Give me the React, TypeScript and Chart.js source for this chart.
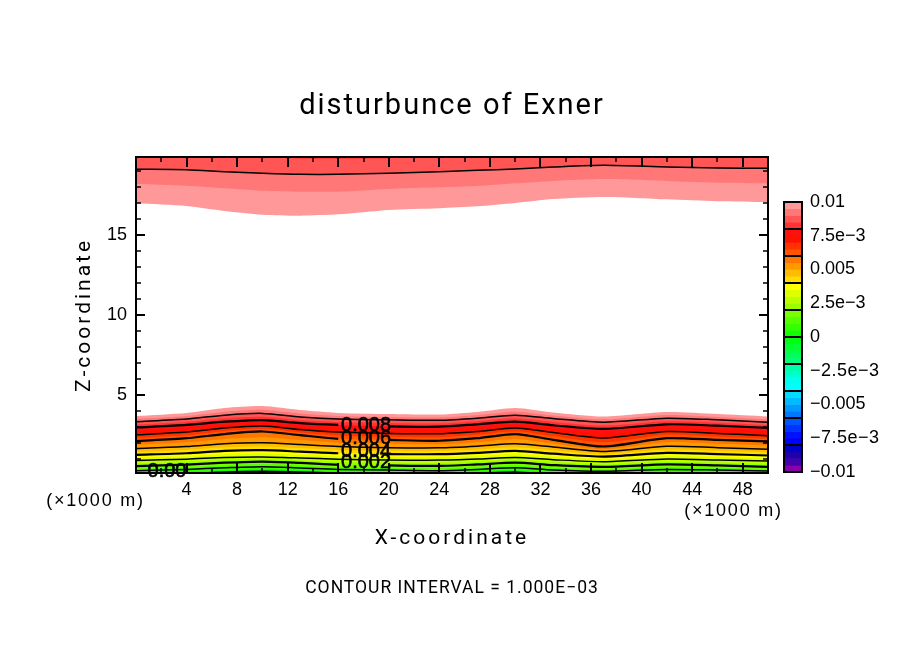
import React, { useEffect, useRef } from "react";
import { Chart, registerables } from "chart.js";

Chart.register(...registerables);

const titleText = "disturbunce of Exner";
const noteText = "CONTOUR INTERVAL = 1.000E\u221203";
const xAxisTitle = "X-coordinate";
const yAxisTitle = "Z-coordinate";
const unitText = "(\u00d71000 m)";

const xMajor = [4, 8, 12, 16, 20, 24, 28, 32, 36, 40, 44, 48];
const xMinor = [2, 6, 10, 14, 18, 22, 26, 30, 34, 38, 42, 46];
const zMajor = [5, 10, 15];
const zMinor = [1, 2, 3, 4, 6, 7, 8, 9, 11, 12, 13, 14, 16, 17, 18, 19];

// x positions (km) at which the contours were read
const xNodes = [0, 4, 7, 10, 13, 16, 20, 24, 27, 30, 33, 37, 42, 46, 50];

// upper region: height (km) of each band edge
const up0085 = [20.6, 20.4, 20.2, 19.95, 19.77, 19.77, 19.8, 20.0, 20.2, 20.4, 20.6, 20.8, 20.6, 20.5, 20.5];
const up0090 = [19.11, 19.08, 18.96, 18.86, 18.79, 18.79, 18.86, 18.96, 19.04, 19.13, 19.25, 19.36, 19.25, 19.19, 19.17];
const up0095 = [18.19, 18.08, 17.92, 17.77, 17.71, 17.71, 17.88, 17.98, 18.06, 18.23, 18.38, 18.5, 18.38, 18.27, 18.23];
const up0100 = [16.98, 16.81, 16.5, 16.27, 16.21, 16.29, 16.56, 16.67, 16.79, 17.0, 17.25, 17.38, 17.23, 17.11, 17.06];

// lower region: height (km) of each level
const lo0100 = [3.69, 3.88, 4.19, 4.31, 4.06, 3.88, 3.81, 3.78, 3.94, 4.19, 3.91, 3.66, 3.94, 3.81, 3.66];
const lo0095 = [3.51, 3.69, 3.96, 4.08, 3.85, 3.69, 3.63, 3.6, 3.75, 3.96, 3.72, 3.48, 3.75, 3.63, 3.48];
const lo0090 = [3.33, 3.5, 3.74, 3.85, 3.63, 3.5, 3.45, 3.42, 3.55, 3.74, 3.53, 3.3, 3.55, 3.45, 3.3];
const lo0085 = [3.15, 3.31, 3.54, 3.64, 3.43, 3.31, 3.25, 3.22, 3.36, 3.54, 3.32, 3.09, 3.36, 3.27, 3.13];
const lo0080 = [2.97, 3.13, 3.33, 3.43, 3.24, 3.13, 3.04, 3.02, 3.17, 3.33, 3.11, 2.88, 3.17, 3.08, 2.95];
const lo0075 = [2.74, 2.9, 3.13, 3.25, 3.04, 2.9, 2.82, 2.8, 2.94, 3.13, 2.88, 2.59, 2.94, 2.84, 2.7];
const lo0070 = [2.51, 2.68, 2.93, 3.06, 2.84, 2.68, 2.6, 2.58, 2.72, 2.93, 2.66, 2.31, 2.72, 2.6, 2.45];
const lo0065 = [2.31, 2.49, 2.74, 2.89, 2.66, 2.47, 2.39, 2.36, 2.51, 2.74, 2.43, 2.04, 2.51, 2.39, 2.27];
const lo0060 = [2.12, 2.3, 2.56, 2.72, 2.49, 2.26, 2.19, 2.14, 2.3, 2.56, 2.2, 1.78, 2.3, 2.19, 2.1];
const lo0055 = [1.89, 2.04, 2.25, 2.36, 2.19, 2.02, 1.95, 1.92, 2.05, 2.25, 1.97, 1.62, 2.05, 1.95, 1.85];
const lo0050 = [1.66, 1.78, 1.95, 2.01, 1.9, 1.78, 1.71, 1.7, 1.8, 1.95, 1.75, 1.47, 1.8, 1.71, 1.61];
const lo0045 = [1.46, 1.57, 1.73, 1.78, 1.68, 1.57, 1.51, 1.5, 1.59, 1.73, 1.54, 1.31, 1.59, 1.51, 1.41];
const lo0040 = [1.26, 1.36, 1.51, 1.55, 1.46, 1.36, 1.31, 1.3, 1.38, 1.51, 1.33, 1.15, 1.38, 1.31, 1.22];
const lo0035 = [1.08, 1.17, 1.3, 1.34, 1.26, 1.17, 1.12, 1.11, 1.19, 1.3, 1.14, 0.99, 1.19, 1.12, 1.04];
const lo0030 = [0.91, 0.99, 1.1, 1.13, 1.07, 0.99, 0.94, 0.93, 1.0, 1.1, 0.96, 0.83, 1.0, 0.94, 0.87];
const lo0025 = [0.73, 0.82, 0.93, 0.98, 0.91, 0.82, 0.77, 0.75, 0.83, 0.93, 0.79, 0.67, 0.83, 0.77, 0.69];
const lo0020 = [0.55, 0.65, 0.77, 0.84, 0.76, 0.65, 0.6, 0.57, 0.66, 0.77, 0.62, 0.51, 0.66, 0.6, 0.51];
const lo0015 = [0.41, 0.5, 0.61, 0.68, 0.6, 0.5, 0.45, 0.42, 0.5, 0.61, 0.46, 0.37, 0.5, 0.45, 0.38];
const lo0010 = [0.27, 0.35, 0.45, 0.52, 0.44, 0.35, 0.31, 0.27, 0.35, 0.45, 0.31, 0.23, 0.35, 0.31, 0.25];
const lo0005 = [0.13, 0.2, 0.31, 0.36, 0.3, 0.22, 0.16, 0.14, 0.22, 0.31, 0.16, 0.07, 0.2, 0.16, 0.1];
const lo0000 = [-0.02, 0.05, 0.17, 0.21, 0.17, 0.09, 0.01, 0.02, 0.09, 0.17, 0.01, -0.09, 0.05, 0.01, -0.05];

// colour bar, from the top down
const bandTops = [
  0.01, 0.0095, 0.009, 0.0085, 0.008, 0.0075, 0.007, 0.0065, 0.006, 0.0055,
  0.005, 0.0045, 0.004, 0.0035, 0.003, 0.0025, 0.002, 0.0015, 0.001, 0.0005,
  0, -0.0005, -0.001, -0.0015, -0.002, -0.0025, -0.003, -0.0035, -0.004, -0.0045,
  -0.005, -0.0055, -0.006, -0.0065, -0.007, -0.0075, -0.008, -0.0085, -0.009, -0.0095,
];
const bandBottoms = [
  0.0095, 0.009, 0.0085, 0.008, 0.0075, 0.007, 0.0065, 0.006, 0.0055, 0.005,
  0.0045, 0.004, 0.0035, 0.003, 0.0025, 0.002, 0.0015, 0.001, 0.0005, 0,
  -0.0005, -0.001, -0.0015, -0.002, -0.0025, -0.003, -0.0035, -0.004, -0.0045, -0.005,
  -0.0055, -0.006, -0.0065, -0.007, -0.0075, -0.008, -0.0085, -0.009, -0.0095, -0.01,
];
const bandColors = [
  "#ff9999", "#ff7777", "#ff5555", "#ff3333",
  "#ff1111", "#ff1100", "#ff3300", "#ff5500",
  "#ff7700", "#ff9900", "#ffbb00", "#ffdd00",
  "#ffff00", "#ddff00", "#bbff00", "#99ff00",
  "#77ff00", "#55ff00", "#33ff00", "#11ff00",
  "#00ff11", "#00ff33", "#00ff55", "#00ff77",
  "#00ffaa", "#00ffcc", "#00ffee", "#00ffff",
  "#00ddff", "#00bbff", "#0099ff", "#0077ff",
  "#0055ff", "#0033ff", "#0011ff", "#0000ff",
  "#0000cc", "#2200aa", "#4400aa", "#8800aa",
];
const cbTicks = [0.01, 0.0075, 0.005, 0.0025, 0, -0.0025, -0.005, -0.0075, -0.01];
const cbLabels = ["0.01", "7.5e\u22123", "0.005", "2.5e\u22123", "0", "\u22122.5e\u22123", "\u22120.005", "\u22127.5e\u22123", "\u22120.01"];
const cbDividers = [0.008, 0.006, 0.004, 0.002, 0, -0.002, -0.004, -0.006, -0.008];

// contour labels
const contourLabelText = ["0.00", "0.002", "0.004", "0.006", "0.008"];
const contourLabelX = [2.45, 18.2, 18.2, 18.2, 18.2];
const contourLabelZ = [0.25, 0.81, 1.5, 2.31, 3.125];

const SANS = "'Liberation Sans'";
const WIDE = "Roboto";
const textSpacing: Record<string, string> = {
  [titleText]: "2px",
  [xAxisTitle]: "3px",
  [yAxisTitle]: "3px",
  [noteText]: "1px",
  [unitText]: "1.8px",
  "\u22122.5e\u22123": "0.5px",
  "\u22127.5e\u22123": "0.5px",
};

const pts = (ys: number[]) => ys.map((y, i) => ({ x: xNodes[i], y }));

function bandFill(ys: number[], color: string, target: string) {
  return {
    data: pts(ys),
    borderWidth: 0,
    borderColor: color,
    backgroundColor: color,
    fill: target,
    pointRadius: 0,
    tension: 0.25,
  };
}

function contour(ys: number[], width: number, gapFrom?: number, gapTo?: number) {
  return {
    data: pts(ys),
    borderWidth: width,
    borderColor: "#000",
    backgroundColor: "transparent",
    fill: false,
    pointRadius: 0,
    tension: 0.25,
    segment:
      gapFrom === undefined
        ? undefined
        : {
            borderColor: (ctx: any) =>
              ctx.p0.parsed.x >= gapFrom && ctx.p1.parsed.x <= (gapTo as number) ? "rgba(0,0,0,0)" : undefined,
          },
  };
}

const spacingPlugin = {
  id: "spacing",
  beforeInit(chart: any) {
    const ctx = chart.ctx;
    const orig = ctx.fillText.bind(ctx);
    ctx.fillText = (t: string, x: number, y: number, w?: number) => {
      ctx.letterSpacing = textSpacing[t] ?? "0px";
      if (w === undefined) orig(t, x, y);
      else orig(t, x, y, w);
      ctx.letterSpacing = "0px";
    };
  },
};

const framePlugin = {
  id: "frame",
  afterDatasetsDraw(chart: any) {
    const { ctx, chartArea: a, scales } = chart;
    const x = scales.x;
    const y = scales.y;
    ctx.save();
    ctx.strokeStyle = "#000";
    ctx.lineWidth = 2;
    ctx.strokeRect(a.left, a.top, a.right - a.left, a.bottom - a.top);
    const xTick = (v: number, len: number) => {
      const p = Math.round(x.getPixelForValue(v));
      ctx.beginPath();
      ctx.moveTo(p, a.top);
      ctx.lineTo(p, a.top + len);
      ctx.moveTo(p, a.bottom);
      ctx.lineTo(p, a.bottom - len);
      ctx.stroke();
    };
    const zTick = (v: number, len: number) => {
      const p = Math.round(y.getPixelForValue(v));
      ctx.beginPath();
      ctx.moveTo(a.left, p);
      ctx.lineTo(a.left + len, p);
      ctx.moveTo(a.right, p);
      ctx.lineTo(a.right - len, p);
      ctx.stroke();
    };
    xMajor.forEach((v) => xTick(v, 10));
    zMajor.forEach((v) => zTick(v, 9));
    ctx.lineWidth = 1.5;
    xMinor.forEach((v) => xTick(v, 5));
    zMinor.forEach((v) => zTick(v, 5));

    ctx.fillStyle = "#000";
    ctx.strokeStyle = "#000";
    ctx.lineWidth = 0.6;
    ctx.textAlign = "center";
    ctx.textBaseline = "middle";
    ctx.font = `20px ${SANS}`;
    contourLabelText.forEach((t, i) => {
      const px = x.getPixelForValue(contourLabelX[i]);
      const py = y.getPixelForValue(contourLabelZ[i]);
      ctx.fillText(t, px, py);
      ctx.strokeText(t, px, py);
    });
    ctx.font = `18px ${SANS}`;
    ctx.fillText(unitText, 95.5, 501);
    ctx.fillText(unitText, 733.5, 511);
    ctx.restore();
  },
};

const barFramePlugin = {
  id: "barFrame",
  afterDatasetsDraw(chart: any) {
    const { ctx, chartArea: a, scales } = chart;
    ctx.save();
    ctx.strokeStyle = "#000";
    ctx.lineWidth = 2;
    cbDividers.forEach((v) => {
      const p = Math.round(scales.y.getPixelForValue(v));
      ctx.beginPath();
      ctx.moveTo(a.left, p);
      ctx.lineTo(a.right, p);
      ctx.stroke();
    });
    ctx.strokeRect(a.left, a.top, a.right - a.left, a.bottom - a.top);
    ctx.restore();
  },
};

export default function App() {
  const mainRef = useRef<HTMLCanvasElement>(null);
  const barRef = useRef<HTMLCanvasElement>(null);

  useEffect(() => {
    const upper = [
      bandFill(up0085, bandColors[3], "end"),
      bandFill(up0090, bandColors[2], "end"),
      bandFill(up0095, bandColors[1], "end"),
      bandFill(up0100, bandColors[0], "end"),
    ];
    const lowerLevels = [
      lo0000, lo0005, lo0010, lo0015, lo0020, lo0025, lo0030, lo0035, lo0040, lo0045,
      lo0050, lo0055, lo0060, lo0065, lo0070, lo0075, lo0080, lo0085, lo0090, lo0095, lo0100,
    ];
    // index 0 of the level list sits at the bottom: it takes the colour just below 0
    const lower = lowerLevels.map((ys, i) => bandFill(ys, bandColors[20 - i], "start"));
    const lines = [
      contour(lo0000, 2.2, 0, 4),
      contour(lo0010, 1.5),
      contour(lo0020, 2.2, 16, 20),
      contour(lo0030, 1.5),
      contour(lo0040, 2.2, 16, 20),
      contour(lo0050, 1.5),
      contour(lo0060, 2.2, 16, 20),
      contour(lo0070, 1.5),
      contour(lo0080, 2.2, 16, 20),
      contour(lo0090, 1.5),
      contour(up0090, 1.5),
    ];

    const main = new Chart(mainRef.current as HTMLCanvasElement, {
      type: "line",
      data: { datasets: [...lines, ...upper, ...lower] as any },
      options: {
        animation: false,
        responsive: false,
        devicePixelRatio: 1,
        layout: { padding: 0 },
        plugins: {
          legend: { display: false },
          tooltip: { enabled: false },
          title: {
            display: true,
            text: titleText,
            color: "#000",
            font: { family: WIDE, size: 29, weight: 400 },
            padding: { top: 89, bottom: 33.2 },
          },
          subtitle: {
            display: true,
            position: "bottom",
            text: noteText,
            color: "#000",
            font: { family: WIDE, size: 17.5, weight: 400 },
            padding: { top: 0, bottom: 54.5 },
          },
        },
        scales: {
          x: {
            type: "linear",
            position: "bottom",
            min: 0,
            max: 50,
            grid: { display: false, drawTicks: false, tickLength: 0 },
            border: { display: false },
            afterBuildTicks: (s: any) => {
              s.ticks = xMajor.map((value) => ({ value }));
            },
            afterFit: (s: any) => {
              s.height = 105.5;
            },
            ticks: {
              color: "#000",
              autoSkip: false,
              maxRotation: 0,
              padding: 6,
              font: { family: SANS, size: 18 },
            },
            title: {
              display: true,
              text: xAxisTitle,
              color: "#000",
              font: { family: WIDE, size: 21, weight: 400 },
              padding: { top: 0, bottom: 26.9 },
            },
          },
          y: {
            type: "linear",
            position: "left",
            min: 0.125,
            max: 19.875,
            grid: { display: false, drawTicks: false, tickLength: 0 },
            border: { display: false },
            afterBuildTicks: (s: any) => {
              s.ticks = zMajor.map((value) => ({ value }));
            },
            afterFit: (s: any) => {
              s.width = 136;
            },
            ticks: {
              color: "#000",
              autoSkip: false,
              padding: 9,
              font: { family: SANS, size: 18 },
            },
            title: {
              display: true,
              text: yAxisTitle,
              color: "#000",
              font: { family: WIDE, size: 21, weight: 400 },
              padding: { top: 72.5, bottom: 0 },
            },
          },
          yRight: {
            type: "linear",
            position: "right",
            min: 0.125,
            max: 19.875,
            grid: { display: false, drawTicks: false, tickLength: 0 },
            border: { display: false },
            ticks: { display: false },
            afterFit: (s: any) => {
              s.width = 136;
            },
          },
        },
      } as any,
      plugins: [spacingPlugin, framePlugin],
    });

    const bar = new Chart(barRef.current as HTMLCanvasElement, {
      type: "bar",
      data: {
        labels: [""],
        datasets: bandColors.map((color, i) => ({
          data: [[bandBottoms[i], bandTops[i]]],
          backgroundColor: color,
          borderWidth: 0,
          barPercentage: 1,
          categoryPercentage: 1,
          grouped: false,
        })) as any,
      },
      options: {
        animation: false,
        responsive: false,
        devicePixelRatio: 1,
        layout: { padding: { left: 4, top: 22, bottom: 28, right: 0 } },
        plugins: { legend: { display: false }, tooltip: { enabled: false } },
        scales: {
          x: { display: false },
          y: {
            type: "linear",
            position: "right",
            min: -0.01,
            max: 0.01,
            grid: { display: false, drawTicks: false, tickLength: 0 },
            border: { display: false },
            afterBuildTicks: (s: any) => {
              s.ticks = cbTicks.map((value) => ({ value }));
            },
            afterFit: (s: any) => {
              s.width = 102;
            },
            ticks: {
              color: "#000",
              autoSkip: false,
              padding: 8,
              font: { family: SANS, size: 18 },
              callback: (_v: any, i: number) => cbLabels[i],
            },
          },
        },
      } as any,
      plugins: [spacingPlugin, barFramePlugin],
    });

    return () => {
      main.destroy();
      bar.destroy();
    };
  }, []);

  return (
    <div style={{ position: "absolute", left: 0, top: 0, width: 904, height: 654, background: "#fff", overflow: "hidden" }}>
      <canvas ref={mainRef} width={904} height={654} style={{ position: "absolute", left: 0, top: 0, display: "block" }} />
      <canvas ref={barRef} width={124} height={320} style={{ position: "absolute", left: 780, top: 180, display: "block" }} />
    </div>
  );
}
